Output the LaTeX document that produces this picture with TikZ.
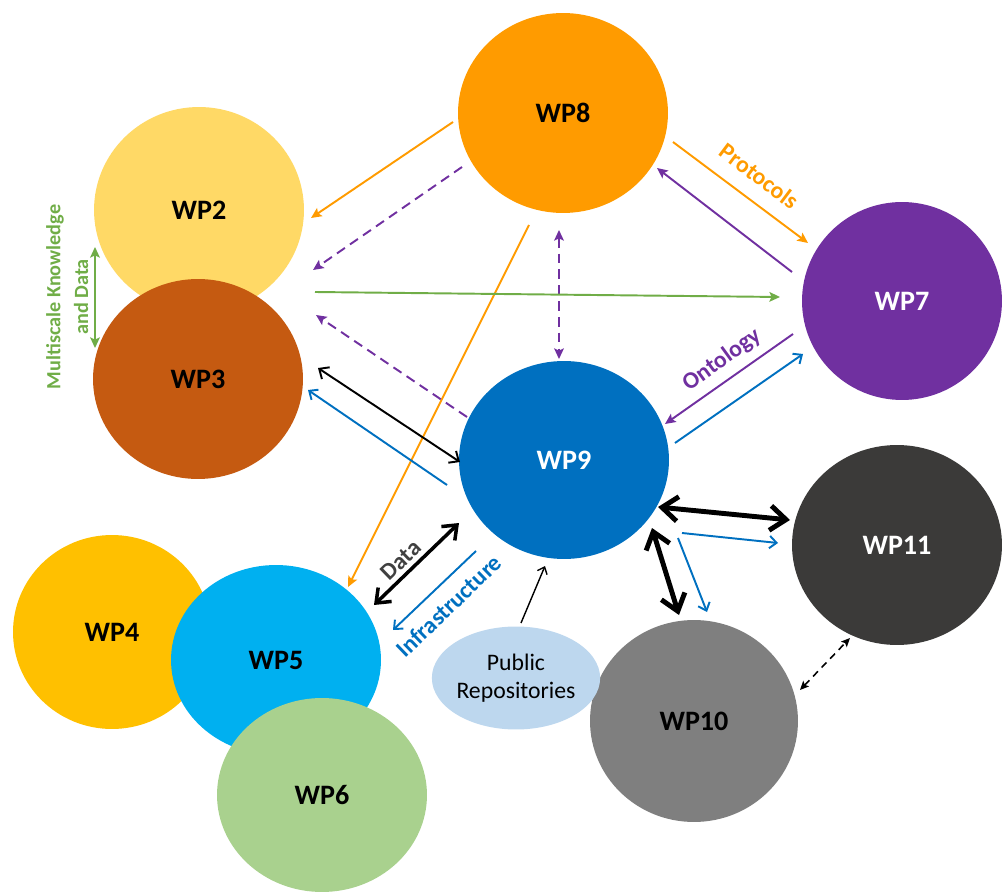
\documentclass[tikz,border=0pt]{standalone}
\usepackage{fontspec}
\setmainfont{Carlito}
\usetikzlibrary{shapes.geometric,arrows.meta,calc}

\definecolor{cEight}{HTML}{FF9B00}
\definecolor{cTwo}{HTML}{FFD966}
\definecolor{cThree}{HTML}{C55A11}
\definecolor{cSeven}{HTML}{7030A0}
\definecolor{cNine}{HTML}{0070C0}
\definecolor{cEleven}{HTML}{3B3A39}
\definecolor{cTen}{HTML}{7F7F7F}
\definecolor{cFour}{HTML}{FFC000}
\definecolor{cFive}{HTML}{00B0F0}
\definecolor{cSix}{HTML}{A9D18E}
\definecolor{cPub}{HTML}{BDD7EE}
\definecolor{lnGreen}{HTML}{70AD47}
\definecolor{lnOrange}{HTML}{FF9B00}
\definecolor{lnPurple}{HTML}{7030A0}
\definecolor{lnBlue}{HTML}{0070C0}
\definecolor{txtGray}{HTML}{404040}

\begin{document}
\begin{tikzpicture}[
  x=0.02cm, y=-0.02cm,
  wpnode/.style={ellipse, inner sep=0pt, font=\fontsize{16}{19}\selectfont\bfseries},
  lbl/.style={inner sep=0pt, font=\fontsize{11.5}{13}\selectfont\bfseries},
  lbldiag/.style={inner sep=0pt, font=\fontsize{13.5}{15}\selectfont\bfseries},
  solidtip/.style={-{Stealth[length=6pt,width=5.5pt,inset=1.2pt]}},
  orangeln/.style={draw=lnOrange, line width=1.1pt, solidtip},
  purpleln/.style={draw=lnPurple, line width=1.1pt, solidtip},
  purpledash/.style={draw=lnPurple, line width=1.1pt, dash pattern=on 5.5pt off 3.5pt},
  greenln/.style={draw=lnGreen, line width=1.1pt},
  blueln/.style={draw=lnBlue, line width=1.1pt, -{Straight Barb[length=4pt,width=7pt]}},
  blackln/.style={draw=black, line width=1.1pt, {Straight Barb[length=4.5pt,width=8pt]}-{Straight Barb[length=4.5pt,width=8pt]}},
  blackthick/.style={draw=black, line width=2.8pt, {Straight Barb[length=9pt,width=14pt]}-{Straight Barb[length=9pt,width=14pt]}},
  blackmid/.style={draw=black, line width=2pt, {Straight Barb[length=7pt,width=11pt]}-{Straight Barb[length=7pt,width=11pt]}}
]
\useasboundingbox (0,0) rectangle (1002,892);

% work package circles
\node[wpnode, fill=cEight, minimum width=4.2cm, minimum height=4cm] (wp8) at (563,113) {WP8};
\node[wpnode, fill=cTwo, minimum width=4.2cm, minimum height=4.12cm] (wp2) at (199,210) {WP2};
\node[wpnode, fill=cThree, minimum width=4.2cm, minimum height=4cm] (wp3) at (198,379) {WP3};
\node[wpnode, fill=cSeven, text=white, minimum width=4cm, minimum height=3.96cm] (wp7) at (902,301) {WP7};
\node[wpnode, fill=cNine, text=white, minimum width=4.2cm, minimum height=3.96cm] (wp9) at (564,460) {WP9};
\node[wpnode, fill=cEleven, text=white, minimum width=4.2cm, minimum height=4cm] (wp11) at (897,545) {WP11};
\node[wpnode, fill=cTen, minimum width=4.16cm, minimum height=4.04cm] (wp10) at (694,721) {WP10};
\node[wpnode, fill=cFour, minimum width=3.96cm, minimum height=3.88cm] (wp4) at (112,632) {WP4};
\node[wpnode, fill=cFive, minimum width=4.2cm, minimum height=3.8cm] (wp5) at (276,660) {WP5};
\node[wpnode, fill=cSix, minimum width=4.2cm, minimum height=3.88cm] (wp6) at (322,795) {WP6};
\node[ellipse, fill=cPub, inner sep=0pt, minimum width=2.96cm, minimum height=2.06cm,
      align=center, font=\fontsize{13.5}{16}\selectfont] (pub) at (516,678) {Public\\Repositories};

% WP2 <-> WP3
\draw[greenln, {Stealth[length=6pt,width=5.5pt,inset=1.2pt]}-{Stealth[length=6pt,width=5.5pt,inset=1.2pt]}]
  ($(wp2.center)+(-104,37)$) -- ($(wp3.center)+(-103,-31)$);
\node[lbl, text=lnGreen, rotate=90] (mk1) at (55,297) {Multiscale Knowledge};
\node[lbl, text=lnGreen, rotate=90] (mk2) at (81,297) {and Data};

% WP8 links
\draw[orangeln] ($(wp8.center)+(-110,9)$) -- ($(wp2.center)+(112,8)$);
\draw[purpledash, solidtip] ($(wp8.center)+(-101,54)$) -- ($(wp2.center)+(114,60)$);
\draw[orangeln] ($(wp8.center)+(-34,112)$) -- ($(wp5.center)+(72,-73)$);
\draw[purpledash, {Stealth[length=6pt,width=5.5pt,inset=1.2pt]}-{Stealth[length=6pt,width=5.5pt,inset=1.2pt]}]
  ($(wp8.center)+(-4,117)$) -- ($(wp9.center)+(-5,-101)$);
\draw[orangeln] ($(wp8.center)+(110,29)$) -- ($(wp7.center)+(-94,-58)$);
\draw[purpleln] ($(wp7.center)+(-110,-29)$) -- ($(wp8.center)+(94,55)$);
\node[lbldiag, text=lnOrange, rotate=-37] (protocols) at (759,176) {Protocols};

% WP3 -> WP7
\draw[greenln, solidtip] ($(wp3.center)+(117,-87)$) -- ($(wp7.center)+(-122,-4)$);

% WP9 <-> WP3
\draw[purpledash, solidtip] ($(wp9.center)+(-97,-43)$) -- ($(wp3.center)+(118,-64)$);
\draw[blackln] ($(wp3.center)+(120,-11)$) -- ($(wp9.center)+(-104,2)$);
\draw[blueln] ($(wp9.center)+(-117,25)$) -- ($(wp3.center)+(110,11)$);

% WP9 <-> WP7
\draw[purpleln] ($(wp7.center)+(-109,33)$) -- ($(wp9.center)+(101,-36)$);
\draw[blueln] ($(wp9.center)+(111,-17)$) -- ($(wp7.center)+(-99,53)$);
\node[lbldiag, text=lnPurple, rotate=36] (ontology) at (722,360) {Ontology};

% WP9 <-> WP11, WP10
\draw[blackthick] ($(wp9.center)+(94,47)$) -- ($(wp11.center)+(-107,-25)$);
\draw[blueln] ($(wp9.center)+(118,73)$) -- ($(wp11.center)+(-119,-2)$);
\draw[blackthick] ($(wp9.center)+(88,68)$) -- ($(wp10.center)+(-15,-106)$);
\draw[blueln] ($(wp9.center)+(114,78)$) -- ($(wp10.center)+(13,-109)$);
\draw[black, line width=0.9pt, dash pattern=on 4pt off 3pt,
      {Stealth[length=5pt,width=4.5pt,inset=1pt]}-{Stealth[length=5pt,width=4.5pt,inset=1pt]}]
  ($(wp10.center)+(106,-31)$) -- ($(wp11.center)+(-47,93)$);

% WP9 <-> WP5
\draw[blackmid] ($(wp9.center)+(-105,63)$) -- ($(wp5.center)+(98,-55)$);
\draw[blueln] ($(wp9.center)+(-88,91)$) -- ($(wp5.center)+(117,-30)$);
\node[lbldiag, text=txtGray, rotate=44] (datalbl) at (401,560) {Data};
\node[lbldiag, text=lnBlue, rotate=44] (infra) at (449,606) {Infrastructure};

% public repositories -> WP9
\draw[black, line width=0.8pt, -{Straight Barb[length=3.5pt,width=6pt]}]
  ($(pub.center)+(5,-55)$) -- ($(wp9.center)+(-19,106)$);
\end{tikzpicture}
\end{document}
